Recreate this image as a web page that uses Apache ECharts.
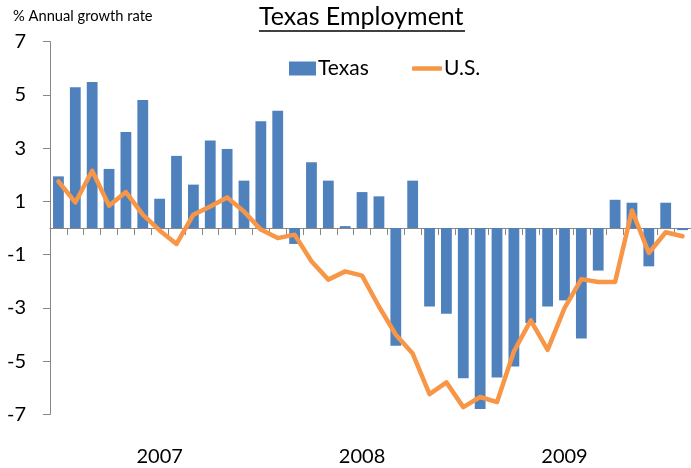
<!DOCTYPE html>
<html>
<head>
<meta charset="utf-8">
<script src="https://cdn.jsdelivr.net/npm/echarts@6/dist/echarts.min.js"></script>
<style>
html,body{margin:0;padding:0;background:#fff;}
#chart{width:691px;height:468px;}
</style>
</head>
<body>
<div id="chart"></div>
<script>
// Monthly categories (Jan 2007 .. Feb 2010)
const months = [
  '2007-01','2007-02','2007-03','2007-04','2007-05','2007-06','2007-07','2007-08','2007-09','2007-10','2007-11','2007-12',
  '2008-01','2008-02','2008-03','2008-04','2008-05','2008-06','2008-07','2008-08','2008-09','2008-10','2008-11','2008-12',
  '2009-01','2009-02','2009-03','2009-04','2009-05','2009-06','2009-07','2009-08','2009-09','2009-10','2009-11','2009-12',
  '2010-01','2010-02'
];
// Year labels shown under July of each year
const yearLabels = {'2007-07':'2007','2008-07':'2008','2009-07':'2009'};

const texas = [
  1.94, 5.29, 5.49, 2.22, 3.61, 4.81, 1.10, 2.71, 1.63, 3.29, 2.97, 1.78,
  4.01, 4.41, -0.60, 2.47, 1.78, 0.07, 1.35, 1.19, -4.42, 1.78, -2.95, -3.22,
  -5.65, -6.80, -5.62, -5.20, -3.57, -2.95, -2.72, -4.15, -1.60, 1.06, 0.95, -1.44,
  0.95, -0.08
];
const us = [
  1.75, 0.96, 2.15, 0.84, 1.35, 0.50, -0.09, -0.60, 0.50, 0.81, 1.15, 0.62,
  -0.06, -0.38, -0.25, -1.25, -1.94, -1.63, -1.79, -2.95, -4.01, -4.72, -6.24, -5.80,
  -6.73, -6.35, -6.54, -4.64, -3.47, -4.58, -3.01, -1.92, -2.03, -2.03, 0.66, -0.94,
  -0.16, -0.31
];
const yTicks = [-7, -5, -3, -1, 1, 3, 5, 7];

const FONT = 'Lato, "Open Sans", sans-serif';
const AXIS_GRAY = '#868686';

const chart = echarts.init(document.getElementById('chart'), null, {renderer: 'canvas'});
chart.setOption({
  animation: false,
  backgroundColor: '#ffffff',
  textStyle: {fontFamily: FONT},
  title: [
    {
      text: 'Texas Employment',
      left: 259, top: 4, padding: 0,
      textStyle: {fontSize: 25, fontWeight: 'normal', color: '#000', fontFamily: FONT}
    },
    {
      text: '% Annual growth rate',
      left: 13, top: 9, padding: 0,
      textStyle: {fontSize: 14.7, fontWeight: 'normal', color: '#000', fontFamily: FONT}
    }
  ],
  graphic: [
    {type: 'line', shape: {x1: 259, y1: 31, x2: 465, y2: 31}, style: {stroke: '#000', lineWidth: 1.5}, silent: true}
  ],
  legend: [
    {
      data: ['Texas'], left: 289, top: 58, padding: 0,
      itemWidth: 27, itemHeight: 14, icon: 'rect',
      textStyle: {fontSize: 21, color: '#000', fontFamily: FONT, padding: [0,0,0,-3]}
    },
    {
      data: [{name: 'U.S.', icon: 'roundRect'}], left: 412, top: 58, padding: 0,
      itemWidth: 30, itemHeight: 4.5,
      itemStyle: {color: '#F79646'},
      textStyle: {fontSize: 21, color: '#000', fontFamily: FONT, padding: [0,0,0,-3]}
    }
  ],
  grid: {left: 50, right: -5, top: 41.7, bottom: 53.7, containLabel: false},
  xAxis: [
    {
      type: 'category', data: months, position: 'bottom',
      axisLine: {onZero: true, lineStyle: {color: AXIS_GRAY, width: 1}},
      axisTick: {show: true, interval: 0, length: 7, lineStyle: {color: AXIS_GRAY}},
      axisLabel: {show: false},
      splitLine: {show: false}
    },
    {
      type: 'category', data: months, position: 'bottom',
      axisLine: {show: false, onZero: false},
      axisTick: {show: false},
      axisLabel: {
        show: true, interval: 0, margin: 32, fontSize: 20, color: '#000', fontFamily: FONT,
        formatter: function (v) { return yearLabels[v] || ''; }
      },
      splitLine: {show: false}
    }
  ],
  yAxis: {
    type: 'value', min: -7, max: 7,
    axisLine: {show: true, lineStyle: {color: AXIS_GRAY, width: 1}},
    axisTick: {show: true, length: 7, customValues: yTicks, lineStyle: {color: AXIS_GRAY}},
    axisLabel: {show: true, customValues: yTicks, margin: 24, fontSize: 20, color: '#000', fontFamily: FONT},
    splitLine: {show: false}
  },
  series: [
    {
      name: 'Texas', type: 'bar', data: texas, xAxisIndex: 0,
      barWidth: '64%',
      itemStyle: {color: '#4F81BD'},
      z: 2
    },
    {
      name: 'U.S.', type: 'line', data: us, xAxisIndex: 0,
      symbol: 'none',
      lineStyle: {color: '#F79646', width: 4.5, join: 'round', cap: 'round'},
      itemStyle: {color: '#F79646'},
      z: 3
    }
  ]
});
</script>
</body>
</html>
